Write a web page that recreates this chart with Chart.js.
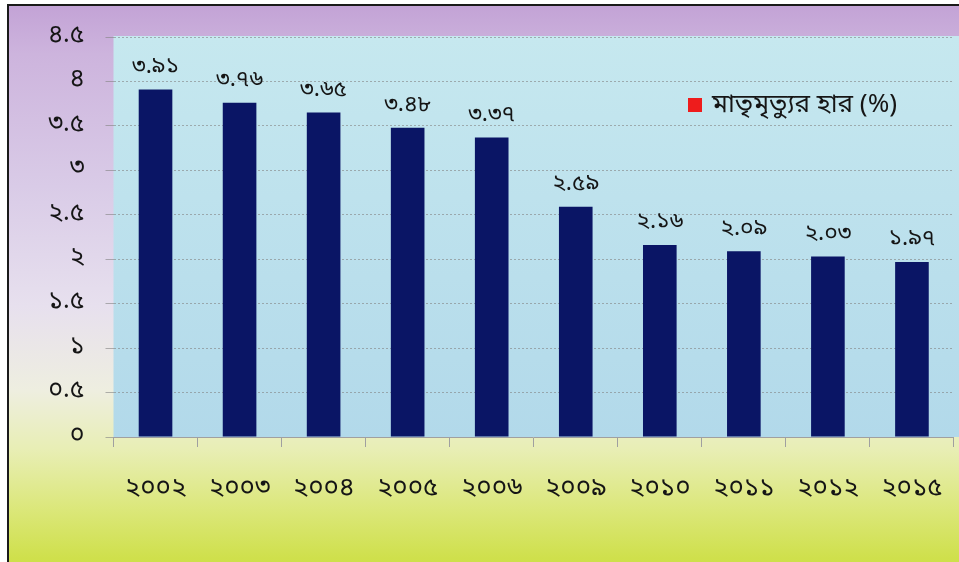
<!DOCTYPE html>
<html>
<head>
<meta charset="utf-8">
<script src="https://cdn.jsdelivr.net/npm/chart.js@4"></script>
<style>
  html, body { margin: 0; padding: 0; overflow: hidden; width: 959px; height: 562px; background: #fff; }
  #bg {
    position: absolute; left: 7px; top: 4px; width: 1000px; height: 600px;
    border-top: 2px solid #1a1a1a; border-left: 2px solid #1a1a1a;
    background: linear-gradient(to bottom,
      #c3a3d6 0%, #cdb4dd 8%, #d9cbe7 30%, #e7e0ee 50%,
      #eeeee0 64%, #e8eeb4 74%, #dbe779 84%, #cfe04c 92%, #c8dc3e 100%);
  }
  #wrap { position: absolute; left: 0; top: 0; }
</style>
</head>
<body>
<div id="bg"></div>
<div id="wrap"><canvas id="chart" width="970" height="562"></canvas></div>
<script>
/* ── Data ── */
const years  = ['২০০২', '২০০৩', '২০০৪', '২০০৫', '২০০৬', '২০০৯', '২০১০', '২০১১', '২০১২', '২০১৫'];
const rates  = [3.91, 3.76, 3.65, 3.48, 3.37, 2.59, 2.16, 2.09, 2.03, 1.97];
const seriesLabel = 'মাতৃমৃত্যুর হার (%)';
const yTicks = [0, 0.5, 1, 1.5, 2, 2.5, 3, 3.5, 4, 4.5];

const bnDigits = ['০','১','২','৩','৪','৫','৬','৭','৮','৯'];
function toBn(v) {
    return String(v).replace(/[0-9]/g, d => bnDigits[d]);
}

const FONT = "'Noto Sans Bengali', 'Lohit Bengali', 'Noto Sans', sans-serif";

/* ── Plot area background ── */
const plotBg = {
    id: 'plotBg',
    beforeDraw(chart) {
        const { ctx, chartArea: a } = chart;
        const g = ctx.createLinearGradient(0, a.top, 0, a.bottom);
        g.addColorStop(0, '#c6e8ef');
        g.addColorStop(1, '#b2d9ea');
        ctx.save();
        ctx.fillStyle = g;
        ctx.fillRect(a.left, a.top - 1, a.right - a.left + 20, a.bottom - a.top + 1);
        ctx.restore();
    }
};

/* ── Value labels above bars ── */
const valueLabels = {
    id: 'valueLabels',
    afterDatasetsDraw(chart) {
        const { ctx } = chart;
        const meta = chart.getDatasetMeta(0);
        ctx.save();
        ctx.fillStyle = '#151515';
        ctx.font = '23px ' + FONT;
        ctx.textAlign = 'center';
        ctx.textBaseline = 'middle';
        meta.data.forEach((bar, i) => {
            ctx.fillText(toBn(rates[i].toFixed(2)), bar.x, bar.y - 21);
        });
        ctx.restore();
    }
};

/* ── Legend (red square + label) ── */
const legendBox = {
    id: 'legendBox',
    afterDraw(chart) {
        const { ctx } = chart;
        ctx.save();
        ctx.fillStyle = '#ee1c1c';
        ctx.fillRect(688, 98, 14, 14);
        ctx.fillStyle = '#151515';
        ctx.font = '26px ' + FONT;
        ctx.textAlign = 'left';
        ctx.textBaseline = 'middle';
        ctx.fillText(chart.data.datasets[0].label, 712, 107);
        ctx.restore();
    }
};

new Chart(document.getElementById('chart'), {
    type: 'bar',
    data: {
        labels: years,
        datasets: [{
            label: seriesLabel,
            data: rates,
            backgroundColor: '#0a1565',
            barPercentage: 0.8,
            categoryPercentage: 0.5
        }]
    },
    options: {
        responsive: false,
        animation: false,
        layout: { padding: { left: 0, top: 37, right: 5.5, bottom: 0 } },
        scales: {
            x: {
                offset: true,
                grid: { drawOnChartArea: false, color: '#a0a0a0', tickLength: 10, offset: true },
                border: { color: '#a0a0a0' },
                ticks: { color: '#151515', font: { size: 26, family: FONT }, padding: 27, maxRotation: 0 },
                afterFit(scale) { scale.height = 125; }
            },
            y: {
                min: 0, max: 4.5,
                afterBuildTicks(scale) { scale.ticks = yTicks.map(v => ({ value: v })); },
                grid: { color: 'rgba(130,130,130,0.6)', tickLength: 8 },
                border: { display: false, dash: [2, 2] },
                ticks: {
                    color: '#151515', font: { size: 25, family: FONT }, padding: 21,
                    callback: v => toBn(v)
                },
                afterFit(scale) { scale.width = 113.5; }
            }
        },
        plugins: {
            legend: { display: false },
            tooltip: { enabled: false }
        }
    },
    plugins: [plotBg, valueLabels, legendBox]
});
</script>
</body>
</html>
